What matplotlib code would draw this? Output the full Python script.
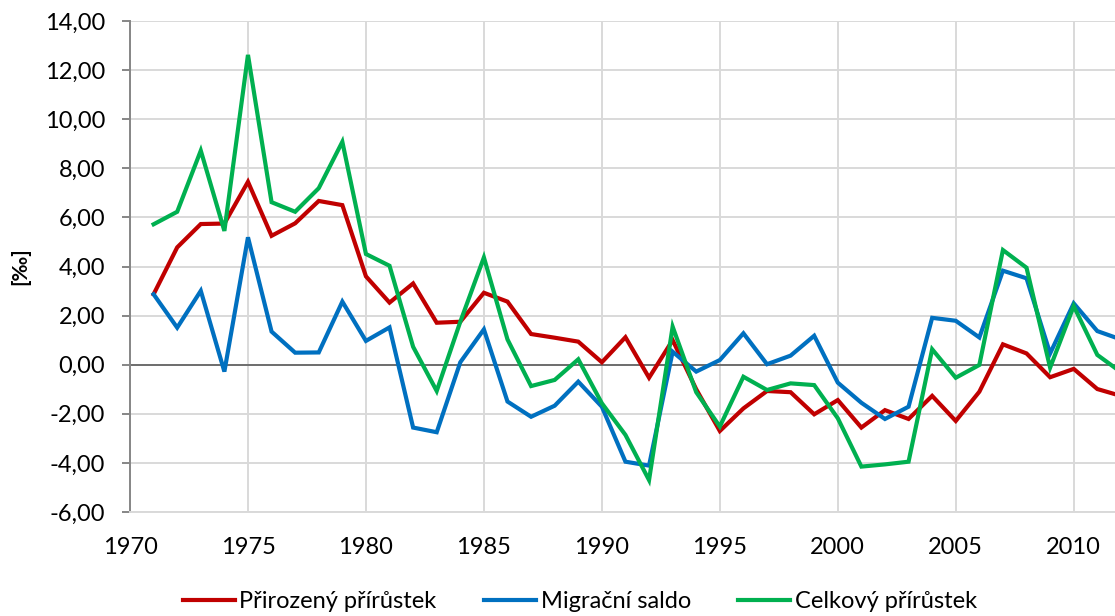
import numpy as np
import matplotlib
matplotlib.use("Agg")
from matplotlib import pyplot as plt
from matplotlib.ticker import MultipleLocator, FuncFormatter

years = list(range(1971, 2013))

# natural increase, per mille
prirozeny = [2.87, 4.78, 5.73, 5.75, 7.45, 5.25, 5.76, 6.67, 6.50, 3.60,
             2.53, 3.31, 1.71, 1.75, 2.93, 2.57, 1.25, 1.10, 0.94, 0.10,
             1.12, -0.53, 1.00, -1.00, -2.70, -1.78, -1.07, -1.12, -2.02, -1.44,
             -2.56, -1.85, -2.21, -1.27, -2.29, -1.10, 0.83, 0.46, -0.51, -0.17,
             -0.99, -1.27]

# net migration, per mille
migracni = [2.87, 1.51, 3.01, -0.28, 5.19, 1.35, 0.49, 0.50, 2.57, 0.97,
            1.52, -2.56, -2.75, 0.10, 1.44, -1.50, -2.12, -1.67, -0.69, -1.71,
            -3.95, -4.11, 0.53, -0.28, 0.19, 1.28, 0.02, 0.37, 1.18, -0.73,
            -1.55, -2.21, -1.71, 1.91, 1.79, 1.11, 3.83, 3.52, 0.46, 2.50,
            1.37, 1.03]

# total increase, per mille
celkovy = [5.72, 6.23, 8.72, 5.45, 12.62, 6.62, 6.23, 7.19, 9.08, 4.51,
           4.03, 0.73, -1.07, 1.75, 4.37, 1.03, -0.87, -0.62, 0.22, -1.57,
           -2.86, -4.70, 1.55, -1.12, -2.52, -0.49, -1.03, -0.76, -0.83, -2.18,
           -4.15, -4.06, -3.95, 0.63, -0.53, -0.01, 4.67, 3.95, -0.12, 2.39,
           0.40, -0.30]

labels = ["Přirozený přírůstek", "Migrační saldo", "Celkový přírůstek"]
colors = ["#C00000", "#0070C0", "#00B050"]

plt.rcParams['font.family'] = ['Lato', 'DejaVu Sans']

fig = plt.figure(figsize=(11.15, 6.16), dpi=100)
ax = fig.add_axes([0.1166, 0.1688, 0.8834, 0.7971])

for vals, lab, col in zip([prirozeny, migracni, celkovy], labels, colors):
    ax.plot(years, vals, color=col, lw=3.0, label=lab, solid_joinstyle='miter')

ax.set_xlim(1970, 2011.75)
ax.set_ylim(-6, 14)
ax.xaxis.set_major_locator(MultipleLocator(5))
ax.yaxis.set_major_locator(MultipleLocator(2))
ax.yaxis.set_major_formatter(FuncFormatter(lambda v, p: f"{v:.2f}".replace(".", ",")))

ax.grid(True, color="#d9d9d9", lw=1.4)
ax.set_axisbelow(True)
ax.axhline(0, color="#6e6e6e", lw=1.4, zorder=1.5)

for s in ["top", "right"]:
    ax.spines[s].set_visible(False)
ax.spines["bottom"].set_color("#d9d9d9")
ax.spines["bottom"].set_linewidth(1.4)
ax.spines["left"].set_color("#868686")
ax.spines["left"].set_linewidth(1.4)

ax.tick_params(axis="y", length=6, width=1.4, color="#868686", labelsize=17, pad=12)
ax.tick_params(axis="x", length=0, labelsize=17, pad=18)

ax.set_ylabel("[‰]", fontsize=15, fontweight="bold", labelpad=10)

fig.legend(loc="center", bbox_to_anchor=(0.52, 0.023), ncol=3, frameon=False,
           fontsize=17, handlelength=2.2, handletextpad=0.2, columnspacing=2.0)

fig.savefig("out.png", dpi=100)
